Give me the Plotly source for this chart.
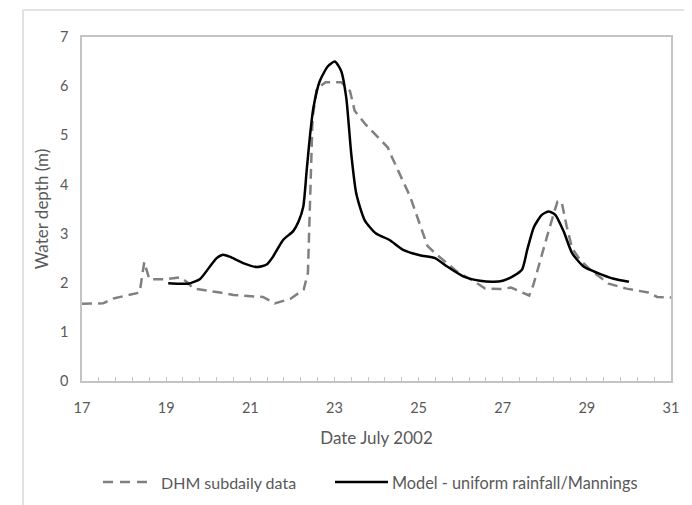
import plotly.graph_objects as go

# DHM subdaily data (dashed)
dhm_day = [17.0, 17.5, 17.75, 18.37, 18.48, 18.6, 19.0, 19.34, 19.5, 19.65, 20.28, 20.6,
           21.3, 21.58, 21.95, 22.27, 22.37, 22.42, 22.48, 22.58, 22.79, 23.16, 23.37,
           23.48, 23.74, 24.27, 24.37, 24.8, 25.21, 25.42, 25.94, 26.3, 26.58, 26.94,
           27.2, 27.63, 27.73, 28.1, 28.3, 28.4, 28.52, 28.65, 28.85, 29.1, 29.52,
           29.94, 30.46, 30.67, 31.0]
dhm_depth = [1.57, 1.58, 1.68, 1.8, 2.42, 2.07, 2.07, 2.11, 2.01, 1.88, 1.8, 1.75,
             1.71, 1.58, 1.67, 1.86, 2.2, 3.68, 5.35, 5.95, 6.08, 6.08, 5.9,
             5.5, 5.22, 4.75, 4.55, 3.75, 2.75, 2.58, 2.21, 2.04, 1.88, 1.87,
             1.9, 1.74, 1.96, 3.08, 3.65, 3.65, 3.15, 2.7, 2.45, 2.25, 1.98,
             1.88, 1.8, 1.71, 1.70]

# Model - uniform rainfall/Mannings (solid)
model_day = [19.05, 19.3, 19.52, 19.8, 20.04, 20.2, 20.35, 20.51, 20.83, 21.15, 21.39,
             21.54, 21.78, 22.02, 22.15, 22.26, 22.34, 22.42, 22.5, 22.65, 22.85, 23.01,
             23.16, 23.28, 23.4, 23.52, 23.72, 23.99, 24.31, 24.63, 25.03, 25.39, 25.66,
             26.06, 26.46, 26.78, 27.0, 27.26, 27.46, 27.58, 27.74, 27.93, 28.09, 28.25,
             28.45, 28.65, 28.92, 29.25, 29.64, 30.0]
model_depth = [1.99, 1.98, 1.98, 2.07, 2.33, 2.5, 2.57, 2.53, 2.4, 2.32, 2.37,
               2.53, 2.87, 3.05, 3.25, 3.55, 4.28, 5.0, 5.56, 6.1, 6.41, 6.5,
               6.31, 5.77, 4.62, 3.81, 3.27, 3.0, 2.87, 2.67, 2.56, 2.5, 2.34,
               2.13, 2.04, 2.02, 2.04, 2.14, 2.27, 2.66, 3.13, 3.38, 3.45, 3.38,
               3.04, 2.6, 2.33, 2.2, 2.08, 2.02]

x_ticks = [17, 19, 21, 23, 25, 27, 29, 31]
y_ticks = [0, 1, 2, 3, 4, 5, 6, 7]
series_names = ["DHM subdaily data", "Model - uniform rainfall/Mannings"]

FONT = "Lato"
GREY = "#595959"
AXIS = "#c4c4c4"

fig = go.Figure()
fig.add_trace(go.Scatter(x=dhm_day, y=dhm_depth, mode="lines", name=series_names[0],
                         showlegend=False,
                         line=dict(color="#808080", width=2.5, dash="10px,6px")))
fig.add_trace(go.Scatter(x=model_day, y=model_depth, mode="lines", name=series_names[1],
                         showlegend=False,
                         line=dict(color="#000000", width=2.5, shape="spline", smoothing=0.6)))

fig.update_layout(
    width=692, height=505,
    margin=dict(l=74, r=29, t=29, b=132),
    paper_bgcolor="white", plot_bgcolor="white",
    font=dict(family=FONT, size=14, color=GREY),
    xaxis=dict(range=[17, 31], tickvals=x_ticks, ticktext=[str(v) for v in x_ticks],
               showgrid=False, zeroline=False, showline=True, linecolor=AXIS,
               linewidth=1.5, mirror=True, ticks="inside", ticklen=4, tickcolor=AXIS,
               minor=dict(dtick=0.4, tick0=17, ticks="inside", ticklen=4, tickcolor=AXIS,
                          showgrid=False),
               ticklabelstandoff=13,
               tickfont=dict(family=FONT, size=14.5, color=GREY),
               title=dict(text="Date July 2002", font=dict(family=FONT, size=17, color=GREY),
                          standoff=17)),
    yaxis=dict(range=[0, 7], tickvals=y_ticks, showgrid=False, zeroline=False,
               showline=True, linecolor=AXIS, linewidth=1.5, mirror=True,
               ticks="", ticklabelstandoff=9,
               tickfont=dict(family=FONT, size=14.5, color=GREY),
               title=dict(text="Water depth (m)", font=dict(family=FONT, size=17, color=GREY),
                          standoff=7)),
)


def px(wx):
    return (wx - 82) / 589


def py(wy):
    return (381 - wy) / 344


# outer chart frame (Excel chart area border)
fig.add_shape(type="line", xref="paper", yref="paper", x0=px(23), x1=px(700), y0=py(10), y1=py(10),
              line=dict(color="#d9d9d9", width=1.5))
fig.add_shape(type="line", xref="paper", yref="paper", x0=px(23), x1=px(23), y0=py(10), y1=py(520),
              line=dict(color="#d9d9d9", width=1.5))

# legend drawn below the axis title
leg_y = py(482)
fig.add_shape(type="line", xref="paper", yref="paper", x0=px(103), x1=px(154), y0=leg_y, y1=leg_y,
              line=dict(color="#808080", width=2.5, dash="10px,7px"))
fig.add_annotation(xref="paper", yref="paper", x=px(159), y=leg_y, text=series_names[0],
                   showarrow=False, xanchor="left", yanchor="middle",
                   font=dict(family=FONT, size=16, color=GREY))
fig.add_shape(type="line", xref="paper", yref="paper", x0=px(335), x1=px(388), y0=leg_y, y1=leg_y,
              line=dict(color="#000000", width=2.5))
fig.add_annotation(xref="paper", yref="paper", x=px(390), y=leg_y, text=series_names[1],
                   showarrow=False, xanchor="left", yanchor="middle",
                   font=dict(family=FONT, size=16.3, color=GREY))

fig.write_html("out.html")
